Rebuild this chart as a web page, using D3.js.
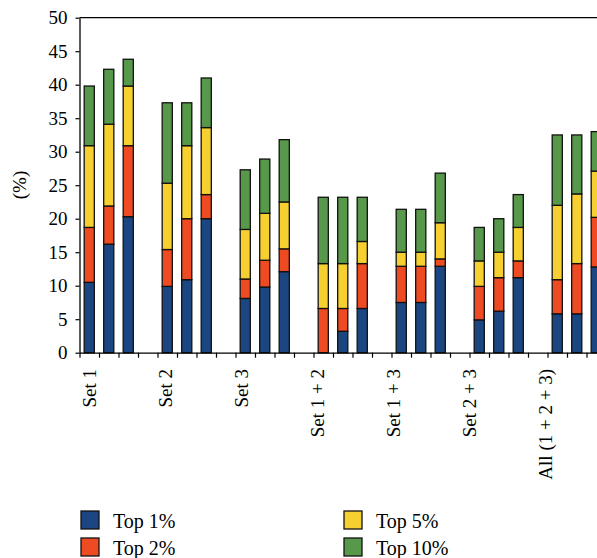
<!DOCTYPE html>
<html>
<head>
<meta charset="utf-8">
<script src="https://cdn.jsdelivr.net/npm/d3@7"></script>
<style>
html,body{margin:0;padding:0;background:#fff;}
svg{display:block;}
text{font-family:"Liberation Serif","DejaVu Serif",serif;fill:#000;}
</style>
</head>
<body>
<div id="chart"></div>
<script>
// ---- data (cumulative percentages, 3 bars per group) ----
const groups = ["Set 1", "Set 2", "Set 3", "Set 1 + 2", "Set 1 + 3", "Set 2 + 3", "All (1 + 2 + 3)"];
const top1  = [10.5, 16.2, 20.3,   9.9, 10.9, 20.0,   8.1,  9.8, 12.1,   0.0,  3.2,  6.6,   7.5,  7.5, 12.9,   4.9,  6.2, 11.2,   5.8,  5.8, 12.8];
const top2  = [18.7, 21.9, 30.9,  15.4, 20.0, 23.6,  11.0, 13.8, 15.5,   6.6,  6.6, 13.3,  12.9, 12.9, 14.0,   9.9, 11.2, 13.7,  10.9, 13.3, 20.2];
const top5  = [30.9, 34.1, 39.8,  25.3, 30.9, 33.6,  18.4, 20.8, 22.5,  13.3, 13.3, 16.6,  15.0, 15.0, 19.4,  13.7, 15.0, 18.7,  22.0, 23.7, 27.1];
const top10 = [39.8, 42.3, 43.8,  37.3, 37.3, 41.0,  27.3, 28.9, 31.8,  23.2, 23.2, 23.2,  21.4, 21.4, 26.8,  18.7, 20.0, 23.6,  32.5, 32.5, 33.0];
const seriesNames = ["Top 1%", "Top 2%", "Top 5%", "Top 10%"];
const seriesColors = ["#1b4681", "#ef4b23", "#f6d031", "#57984a"];
const yTicks = [0, 5, 10, 15, 20, 25, 30, 35, 40, 45, 50];
const barsPerGroup = 3;
const slotsPerGroup = 4;

// ---- layout ----
const W = 597, H = 558;
const svg = d3.select("#chart").append("svg").attr("width", W).attr("height", H);

const plotLeft = 79.5, yBottom = 352.7, yTop = 17.7, slotW = 19.5;
const nSlots = groups.length * slotsPerGroup;

const y = d3.scaleLinear().domain([0, 50]).range([yBottom, yTop]);
const x = d3.scaleBand().domain(d3.range(nSlots))
  .range([plotLeft, plotLeft + nSlots * slotW])
  .paddingInner(0.48).paddingOuter(0.24);
const xb = d3.scaleLinear().domain([0, nSlots]).range([plotLeft, plotLeft + nSlots * slotW]);
const xl = d3.scalePoint().domain(groups).range([89.5, 545.5]);

// bars table
const bars = [];
groups.forEach((g, gi) => {
  for (let j = 0; j < barsPerGroup; j++) {
    const k = gi * barsPerGroup + j;
    bars.push({slot: gi * slotsPerGroup + j, vals: [top1[k], top2[k], top5[k], top10[k]]});
  }
});

// top border
svg.append("line").attr("x1", plotLeft).attr("x2", W).attr("y1", y(50)).attr("y2", y(50))
  .attr("stroke", "#000").attr("stroke-width", 1.3);

// bars
const gBars = svg.append("g");
bars.forEach(b => {
  b.vals.forEach((v, si) => {
    const lo = si === 0 ? 0 : b.vals[si - 1];
    if (v - lo <= 0) return;
    gBars.append("rect")
      .attr("x", x(b.slot)).attr("width", x.bandwidth())
      .attr("y", y(v)).attr("height", y(lo) - y(v))
      .attr("fill", seriesColors[si])
      .attr("stroke", "#111").attr("stroke-width", 1.3);
  });
});

// y axis
const yAxis = svg.append("g").attr("transform", `translate(${plotLeft},0)`)
  .call(d3.axisLeft(y).tickValues(yTicks).tickSize(4).tickSizeOuter(0).tickPadding(8));
yAxis.select(".domain").attr("stroke-width", 1.3);
yAxis.selectAll(".tick line").attr("stroke-width", 1.2);
yAxis.selectAll("text").style("font-size", "19px").attr("font-family", null);

// x axis (boundary ticks)
const xAxis = svg.append("g").attr("transform", `translate(0,${yBottom})`)
  .call(d3.axisBottom(xb).tickValues(d3.range(nSlots + 1)).tickFormat("").tickSize(5).tickSizeOuter(0));
xAxis.select(".domain").attr("stroke-width", 1.3);
xAxis.selectAll(".tick line").attr("stroke-width", 1.2);

// group labels
svg.append("g").selectAll("text").data(groups).join("text")
  .attr("transform", d => `translate(${xl(d)},369) rotate(-90)`)
  .attr("text-anchor", "end").attr("dy", "0.33em")
  .style("font-size", "19px")
  .text(d => d);

// y title
svg.append("text").attr("transform", "translate(19.5,185) rotate(-90)")
  .attr("text-anchor", "middle").attr("dy", "0.33em")
  .style("font-size", "19px").text("(%)");

// legend
const legPos = [[81, 511], [81, 538], [344, 511], [344, 538]];
const leg = svg.append("g");
seriesNames.forEach((n, i) => {
  const [lx, ly] = legPos[i];
  leg.append("rect").attr("x", lx).attr("y", ly).attr("width", 18).attr("height", 18)
    .attr("fill", seriesColors[i]).attr("stroke", "#111").attr("stroke-width", 1.3);
  leg.append("text").attr("x", lx + 32).attr("y", ly + 16.5)
    .style("font-size", "20px").text(n);
});
</script>
</body>
</html>
